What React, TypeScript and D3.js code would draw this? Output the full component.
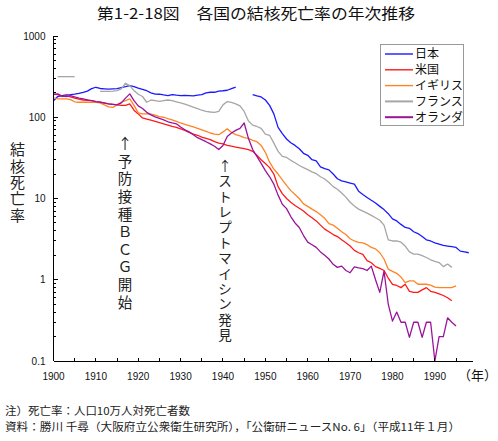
import React from 'react';
import * as d3 from 'd3';

// ---- data ----
const JAPAN_A_START = 1900;
const japanA = [160,180,185,188,190,193,197,203,210,225, 234,226,224,222,224,225,232,238,245,238,
  228,220,212,200,193,192,188,185,190,187, 185,186,185,183,187,190,200,203,203,210, 212,215,225,235];
const JAPAN_B_START = 1947;
const japanB = [190,183,178,163,140,110,75,63,54,48.5, 45,41,36,34,30,29,24.5,23.3,22.5,20,
  17.5,16.5,16,15.5,15,12.3,11.2,10.3,9.5,8.8, 8,7.3,6.5,5.6,5.3,4.8,4.4,4.3,3.9,3.7,
  3.4,3.1,3.0,2.85,2.75,2.65,2.6,2.55,2.5,2.25, 2.2,2.15];

const USA_START = 1900;
const usa = [194,190,180,185,178,172,167,163,161,160, 156,153,149,146,144,142,140,140,146,122,
  110,98,95,92,89,86,83,80,77,75, 72,69,65,62,60,57,55,53,50,48,
  47,45,44,43,42,41,40,38,34,30, 27,24,20,14,11.5,10,9,8.2,7.6,7,
  6.3,5.8,5.3,4.7,4.2,3.9,3.6,3.4,3.1,2.85, 2.6,2.3,2.15,2.05,1.72,1.62,1.45,1.38,1.3,1.05,
  0.88,0.85,0.8,0.88,0.72,0.7,0.7,0.75,0.8,0.72, 0.7,0.67,0.64,0.6,0.55];

const UK_START = 1900;
const uk = [173,168,168,168,165,155,153,153,153,153, 153,150,142,134,132,142,153,160,168,140,
  113,110,110,109,106,102,100,96,93,89, 85,82,79,76,73,70,67,64,62,61,
  66,72,65,61,59,56,55,52,50,45, 37,28,23,20,17,14.5,12.5,11.2,10,8.6,
  8,7.4,6.9,6.3,5.7,4.9,4.7,4.3,3.9,3.6, 3.2,3.0,2.88,2.85,2.7,2.5,2.4,2.15,1.8,1.35,
  1.27,1.2,1.08,0.92,0.97,0.97,0.88,0.88,0.88,0.86, 0.81,0.8,0.8,0.8,0.8,0.84];

const FRANCE_A_START = 1901;
const franceA = [316,316,316,316,316];
const FRANCE_B_START = 1911;
const franceB = [208,208,208,210,213,224,262,245,213,
  192,180,153,163,160,157,160,163,160,155, 150,145,139,133,128,122,118,116,115,118,
  142,156,152,146,138,118,90,80,77,73, 62,60,48,38,33,32,29.5,27.5,25.5,24,
  22.7,21.3,20.2,18.5,17.4,15.7,14,13,11.7,10.4, 9,8.1,7.4,7,6.6,6.2,5.8,5.4,4.7,3.1,
  3.0,3.0,2.9,2.6,2.2,2.07,2.07,1.98,1.88,1.76, 1.68,1.63,1.45,1.56,1.42];

const NL_START = 1900;
const netherlands = [190,194,182,180,185,178,172,168,164,160, 156,153,150,146,144,142,150,172,194,160,
  138,128,115,107,101,97,93,88,85,83, 76,70,66,61,56,53,50,47,44,40,
  45,58,64,69,73,85,55,40,33,27, 22,18.5,15,11,8.5,7.5,6,5,4.4,3.5,
  2.9,2.7,2.5,2.2,2.0,1.8,1.55,1.42,1.47,1.3, 1.22,1.44,1.4,1.37,1.3,1.47,1.0,0.7,1.28,0.5,
  0.31,0.4,0.3,0.3,0.195,0.3,0.3,0.195,0.3,0.3, 0.1,0.2,0.2,0.34,0.3,0.27];

const seriesNames = ['日本', '米国', 'イギリス', 'フランス', 'オランダ'];
const seriesColors = ['#1a1aff', '#ff1a1a', '#ff8426', '#a6a6a6', '#9a149a'];

const xTickYears = d3.range(1900, 1996, 5);
const xLabelYears = d3.range(1900, 1991, 10);
const yMajor = [0.1, 1, 10, 100, 1000];
const yLabels = ['0.1', '1', '10', '100', '1000'];

const TITLE = '第1-2-18図　各国の結核死亡率の年次推移';
const Y_TITLE = '結核死亡率';
const NOTE_BCG = '↑予防接種ＢＣＧ開始';
const NOTE_SM = '↑ストレプトマイシン発見';
const X_UNIT = '（年）';
const FOOT1 = '注）死亡率：人口10万人対死亡者数';
const FOOT2 = '資料：勝川 千尋（大阪府立公衆衛生研究所），「公衛研ニュースNo. 6」（平成11年１月）';

const toPts = (start: number, vals: number[]) => vals.map((v, i) => [start + i, v] as [number, number]);

const seriesSegments: [number, number][][][] = [
  [toPts(JAPAN_A_START, japanA), toPts(JAPAN_B_START, japanB)],
  [toPts(USA_START, usa)],
  [toPts(UK_START, uk)],
  [toPts(FRANCE_A_START, franceA), toPts(FRANCE_B_START, franceB)],
  [toPts(NL_START, netherlands)],
];

const CJK = '"Noto Sans CJK JP", "Noto Sans", sans-serif';
const SANS = '"Liberation Sans", Arial, sans-serif';

export default function App() {
  const W = 498, H = 441;
  const x = d3.scaleLinear().domain([1900, 1999]).range([53.5, 473]);
  const y = d3.scaleLog().domain([0.1, 1000]).range([361, 36]);
  const line = d3.line<[number, number]>().x(d => x(d[0])).y(d => y(d[1]));

  const minor: number[] = [];
  for (let e = -1; e < 3; e++) for (let m = 2; m <= 9; m++) minor.push(m * Math.pow(10, e));

  const x0 = x(1900), yb = y(0.1);

  const legendX = 380, legendY = 44, legendRow = 15.8;

  // vertical text: one glyph per row, cy0 = centre of first glyph
  const vertical = (txt: string, cx: number, cy0: number, step: number, fs: number, key: string) => (
    <g key={key} fontFamily={CJK} fontSize={fs} fill="#222" textAnchor="middle">
      {Array.from(txt).map((c, i) => (
        <text key={i} x={cx} y={cy0 + i * step + fs * 0.36}>{c}</text>
      ))}
    </g>
  );

  return (
    <svg width={W} height={H} style={{ position: 'absolute', left: 0, top: 0, background: '#fff' }}>
      <rect x={0} y={0} width={W} height={H} fill="#fff" />
      <text x={97} y={18.5} fontFamily={CJK} fontSize={15} fontWeight={400} fill="#111"
        textLength={318} lengthAdjust="spacingAndGlyphs">{TITLE}</text>

      {/* series */}
      <g fill="none" strokeWidth={1.3} strokeLinejoin="round">
        {seriesSegments.map((segs, si) => segs.map((seg, k) => (
          <path key={si + '-' + k} d={line(seg) || ''} stroke={seriesColors[si]} />
        )))}
      </g>

      {/* axes */}
      <g stroke="#000" strokeWidth={1} shapeRendering="crispEdges">
        <line x1={x0} x2={x0} y1={y(1000)} y2={yb} />
        <line x1={x0} x2={473} y1={yb} y2={yb} />
        {xTickYears.map(t => <line key={'xt' + t} x1={x(t)} x2={x(t)} y1={yb} y2={yb - 3} />)}
        {yMajor.map(t => <line key={'ym' + t} x1={x0} x2={x0 + 4} y1={y(t)} y2={y(t)} />)}
        {minor.map(t => <line key={'yn' + t} x1={x0} x2={x0 + 2.5} y1={y(t)} y2={y(t)} />)}
      </g>
      <g fontFamily={SANS} fontSize={10} fill="#111">
        {xLabelYears.map(t => (
          <text key={'xl' + t} x={x(t)} y={379.5} textAnchor="middle">{t}</text>
        ))}
        {yMajor.map((t, i) => (
          <text key={'yl' + t} x={45.5} y={y(t) + 3.5} textAnchor="end">{yLabels[i]}</text>
        ))}
      </g>
      <text x={458} y={380} fontFamily={CJK} fontSize={13} fill="#111">{X_UNIT}</text>

      {vertical(Y_TITLE, 17.5, 150, 16.3, 15, 'ytitle')}
      {vertical(NOTE_BCG, 125, 144, 17.6, 14.5, 'bcg')}
      {vertical(NOTE_SM, 225, 166, 15.4, 13.5, 'sm')}

      {/* legend */}
      <rect x={legendX + 0.5} y={legendY + 0.5} width={83} height={81} fill="#fff" stroke="#999" strokeWidth={1} />
      {seriesNames.map((n, i) => {
        const cy = 54 + i * legendRow;
        return (
          <g key={'lg' + i}>
            <line x1={385} x2={413} y1={cy} y2={cy} stroke={seriesColors[i]} strokeWidth={i >= 3 ? 2 : 1.4} />
            <text x={415} y={cy + 4.3} fontFamily={CJK} fontSize={12} fill="#111">{n}</text>
          </g>
        );
      })}

      <text x={5} y={415} fontFamily={CJK} fontSize={11} fill="#222" textLength={185} lengthAdjust="spacingAndGlyphs">{FOOT1}</text>
      <text x={5} y={431} fontFamily={CJK} fontSize={11} fill="#222" textLength={455} lengthAdjust="spacingAndGlyphs">{FOOT2}</text>
    </svg>
  );
}
